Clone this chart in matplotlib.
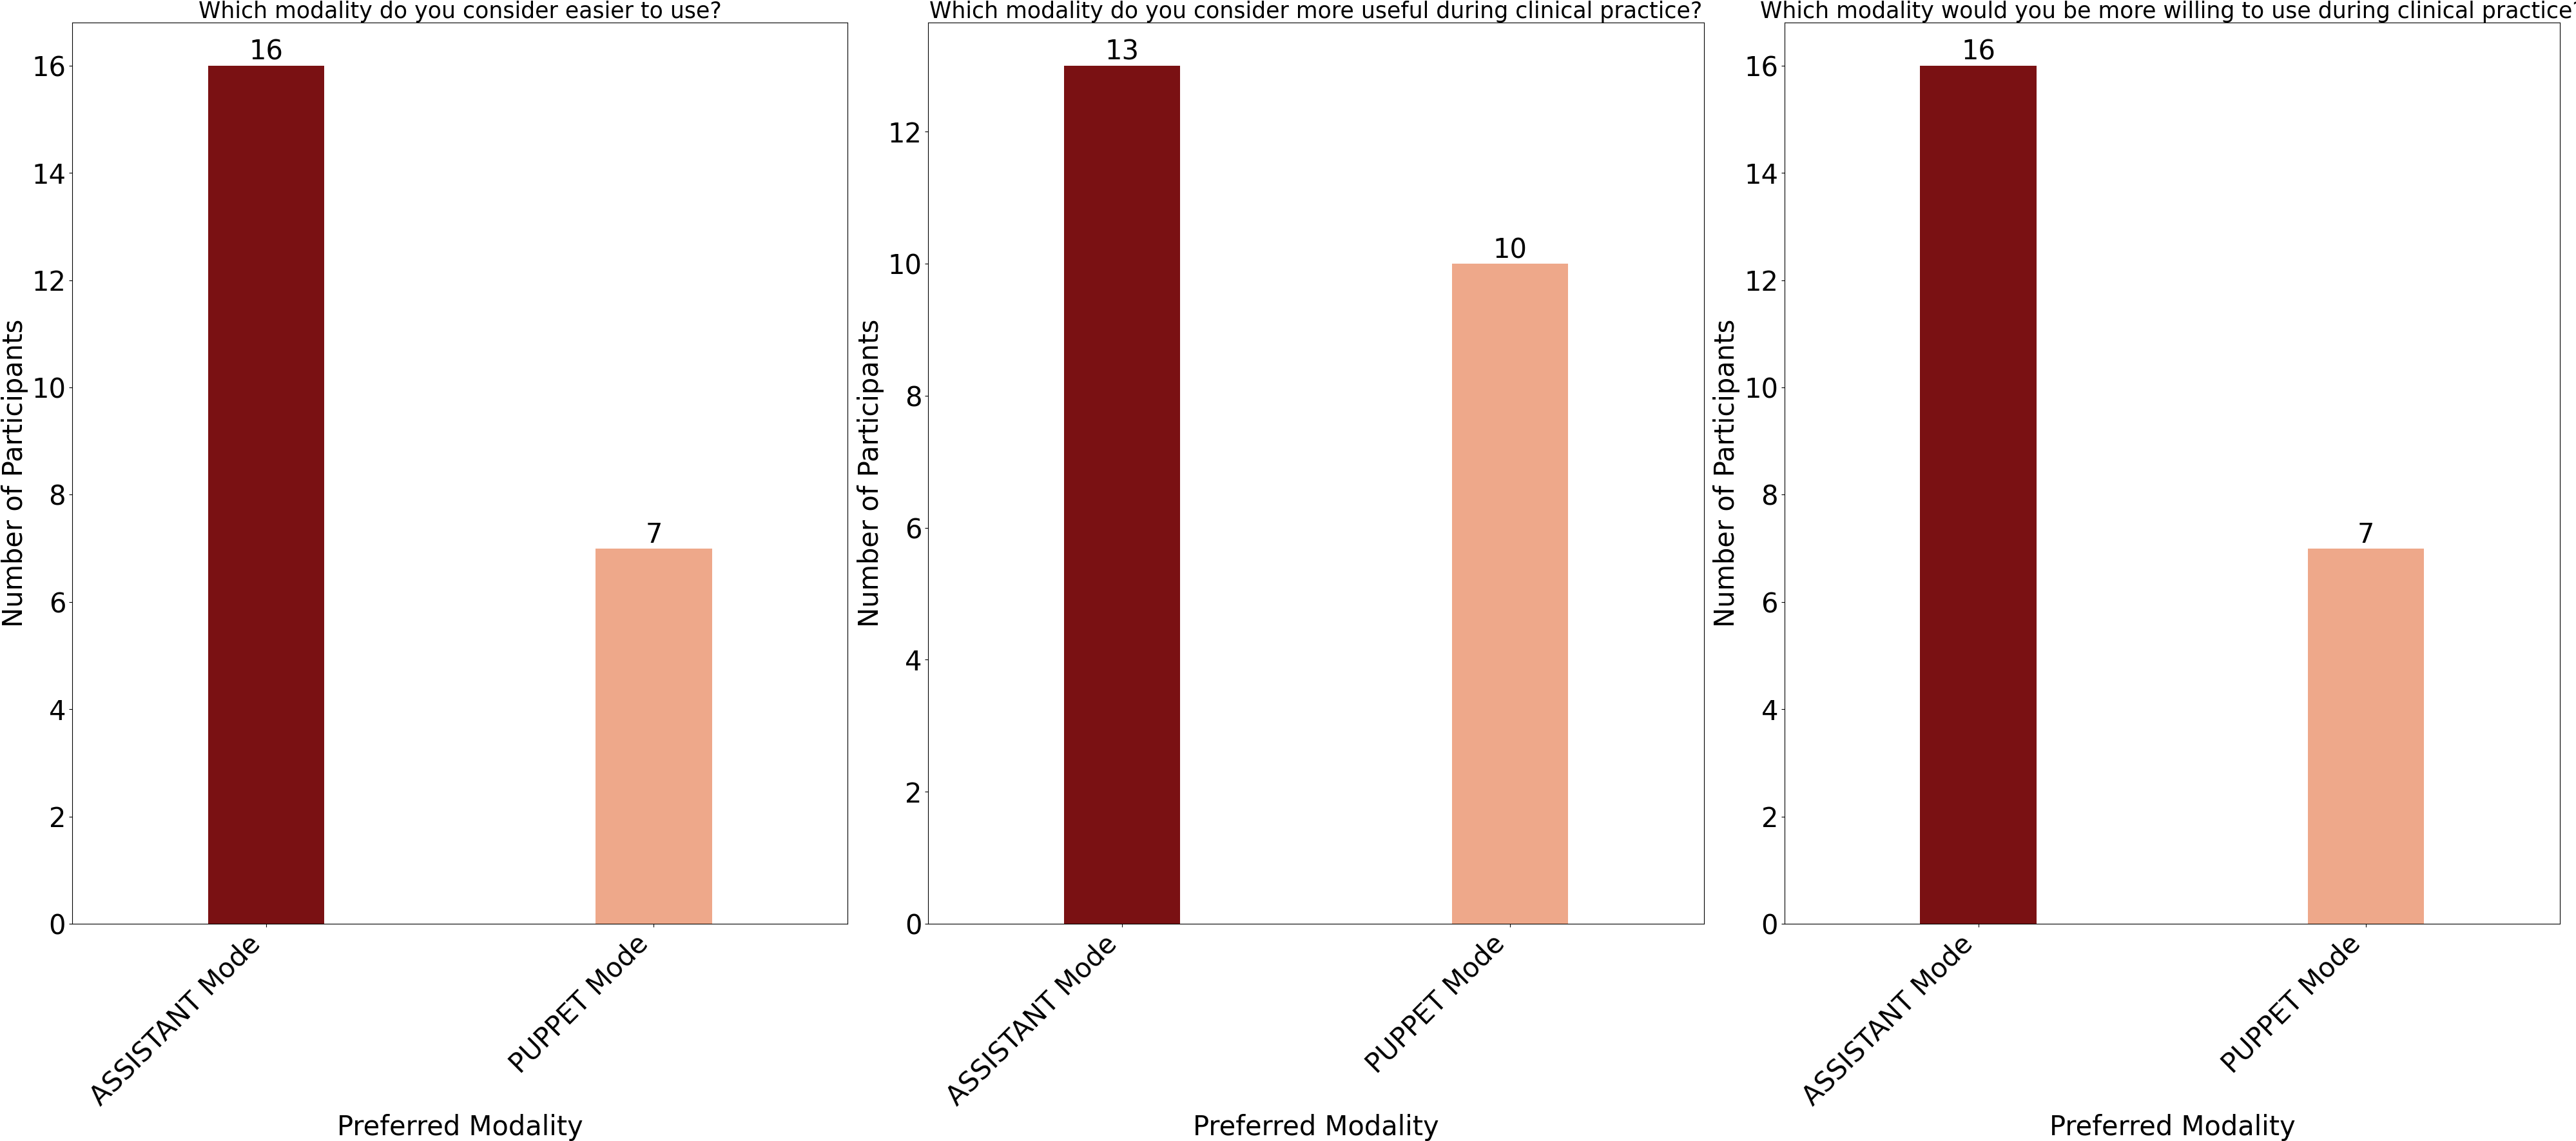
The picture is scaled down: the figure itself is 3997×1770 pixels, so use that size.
import matplotlib
matplotlib.use("Agg")
import matplotlib.pyplot as plt

modes = ["ASSISTANT Mode", "PUPPET Mode"]
questions = [
    "Which modality do you consider easier to use?",
    "Which modality do you consider more useful during clinical practice?",
    "Which modality would you be more willing to use during clinical practice?",
]
easier = [16, 7]
useful = [13, 10]
willing = [16, 7]
counts = [easier, useful, willing]
colors = ["#7a1113", "#eea88a"]

fig, axes = plt.subplots(1, 3, figsize=(39.98, 17.7), dpi=100)
fig.subplots_adjust(left=0.028, right=0.9935, top=0.980, bottom=0.1904, wspace=0.104)

for ax, q, vals in zip(axes, questions, counts):
    x = list(range(len(modes)))
    ax.bar(x, vals, width=0.3, color=colors)
    for xi, v in zip(x, vals):
        ax.text(xi, v, str(v), ha="center", va="bottom", fontsize=30)
    ax.set_xlim(-0.5, 1.5)
    ax.set_xticks(x)
    ax.set_xticklabels(modes, rotation=45, ha="right", fontsize=30)
    ax.tick_params(axis="y", labelsize=30)
    ax.set_title(q, fontsize=25, pad=1)
    ax.set_xlabel("Preferred Modality", fontsize=30)
    ax.set_ylabel("Number of Participants", fontsize=30)

fig.savefig("out.png", dpi=100)
